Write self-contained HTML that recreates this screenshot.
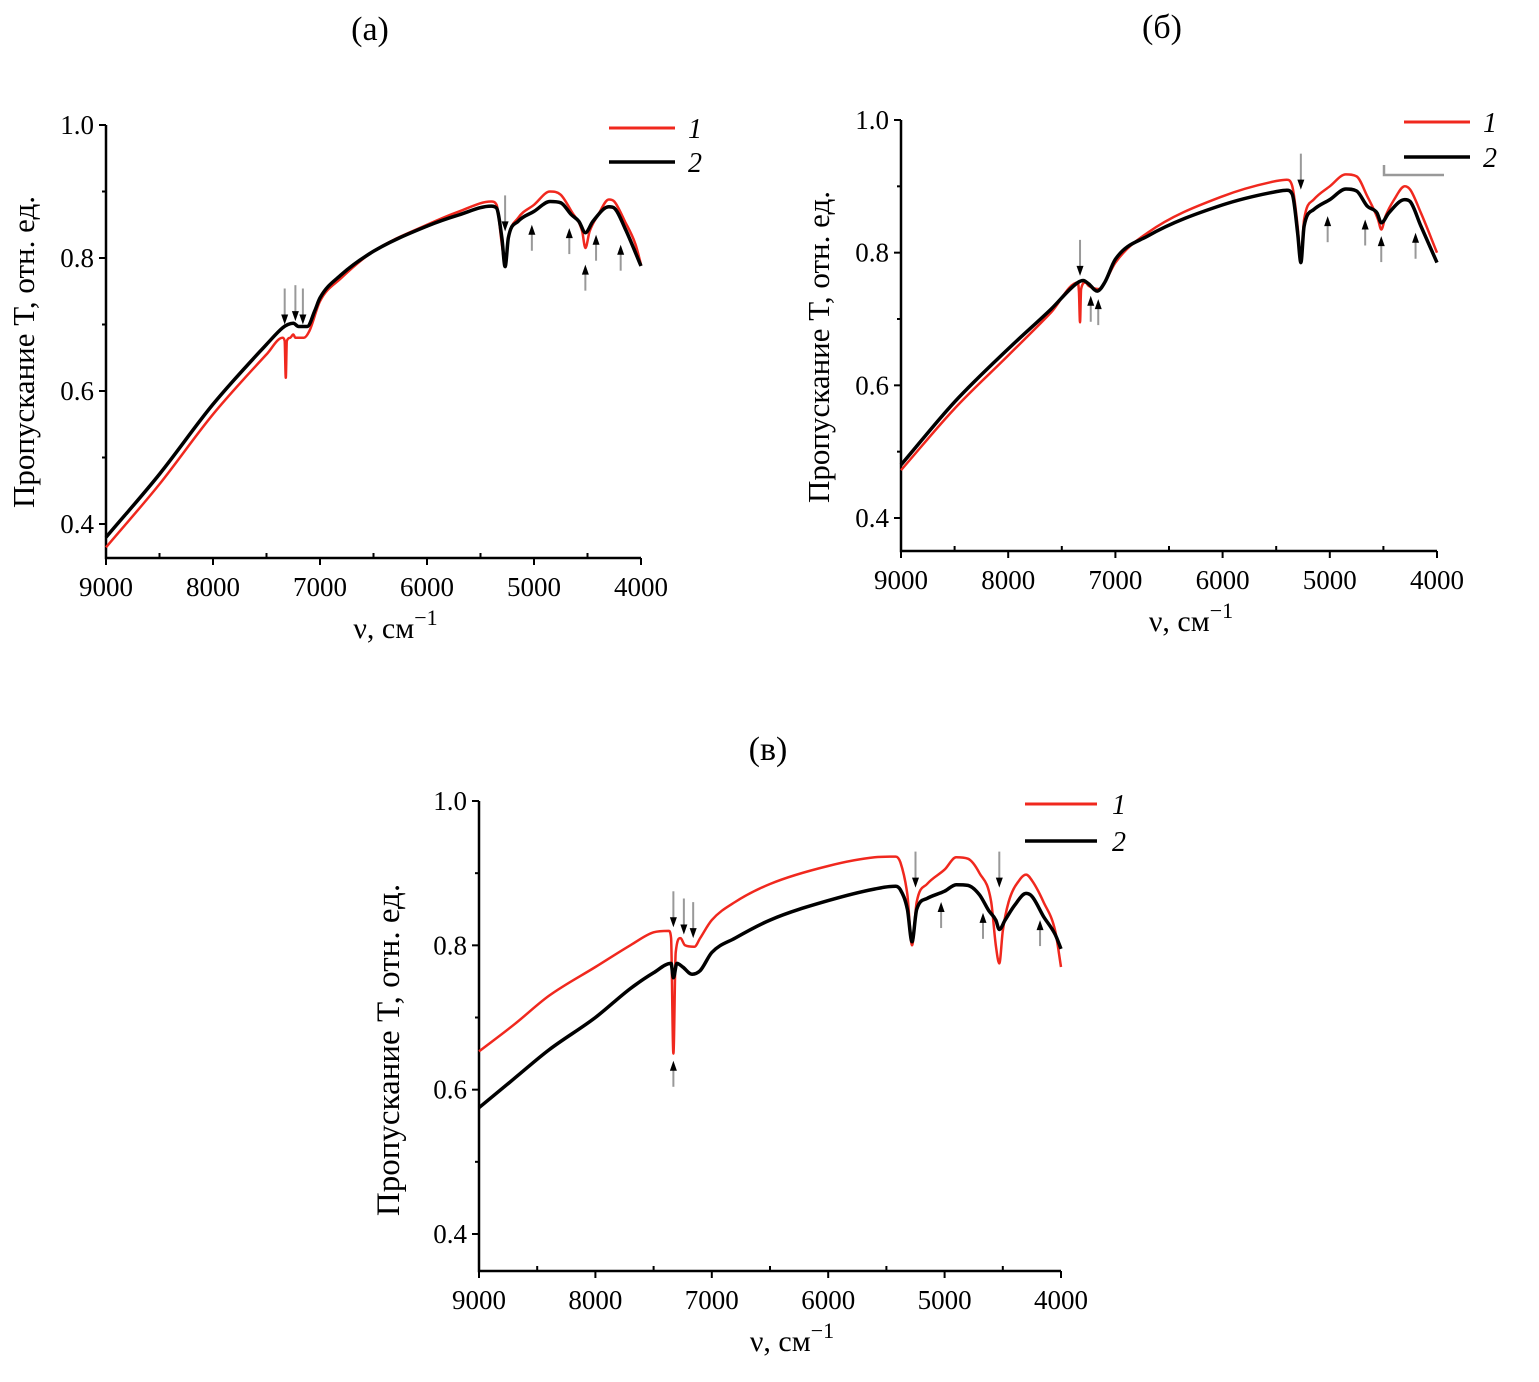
<!DOCTYPE html>
<html><head><meta charset="utf-8">
<style>
body{margin:0;background:#fff;}
svg{display:block;font-family:"Liberation Serif",serif;}
</style></head>
<body>
<svg id="fig" width="1539" height="1382" viewBox="0 0 1539 1382" xmlns="http://www.w3.org/2000/svg">
<text x="370" y="40" font-size="34" text-anchor="middle">(а)</text>
<text x="1162" y="38" font-size="34" text-anchor="middle">(б)</text>
<text x="768" y="760" font-size="34" text-anchor="middle">(в)</text>
</svg>
<script>
const xTicks=[9000,8000,7000,6000,5000,4000];
const yTicks=[0.4,0.6,0.8,1.0];
// Panel a
const aRedX=[9000,8500,8000,7500,7350,7330,7320,7310,7280,7250,7230,7150,7100,7000,6800,6500,6000,5700,5400,5350,5300,5270,5240,5150,5000,4850,4750,4650,4550,4520,4480,4400,4300,4250,4150,4050,4000];
const aRedY=[0.365,0.46,0.565,0.655,0.68,0.675,0.62,0.675,0.68,0.685,0.68,0.68,0.69,0.735,0.77,0.81,0.85,0.87,0.885,0.88,0.82,0.79,0.83,0.86,0.88,0.9,0.895,0.87,0.84,0.815,0.84,0.865,0.888,0.885,0.855,0.82,0.79];
const aBlkX=[9000,8500,8000,7500,7350,7300,7250,7200,7120,7050,7000,6800,6500,6000,5700,5400,5350,5300,5270,5240,5150,5000,4850,4750,4650,4580,4520,4450,4300,4250,4150,4000];
const aBlkY=[0.38,0.475,0.58,0.67,0.695,0.7,0.702,0.697,0.697,0.72,0.74,0.775,0.81,0.848,0.865,0.878,0.875,0.83,0.787,0.83,0.855,0.87,0.885,0.883,0.865,0.855,0.838,0.855,0.877,0.875,0.845,0.788];
const aArrX=[7330,7230,7160,5270,5020,4670,4520,4420,4190];
const aArrY=[0.7,0.705,0.7,0.84,0.85,0.845,0.79,0.835,0.82];
const aArrDir=[-1,-1,-1,-1,1,1,1,1,1];
// Panel b
const bRedX=[9000,8500,8000,7600,7350,7340,7330,7320,7280,7250,7150,7100,7000,6700,6000,5500,5400,5350,5300,5270,5240,5150,5000,4850,4750,4650,4550,4520,4480,4400,4300,4250,4150,4000];
const bRedY=[0.472,0.565,0.645,0.71,0.755,0.74,0.695,0.745,0.755,0.75,0.745,0.755,0.785,0.83,0.885,0.908,0.91,0.9,0.84,0.788,0.85,0.88,0.9,0.918,0.915,0.885,0.85,0.835,0.855,0.88,0.9,0.895,0.86,0.8];
const bBlkX=[9000,8500,8000,7600,7350,7300,7250,7170,7100,7000,6700,6000,5500,5400,5350,5300,5270,5240,5150,5000,4850,4750,4650,4560,4520,4450,4300,4250,4150,4000];
const bBlkY=[0.48,0.575,0.655,0.715,0.755,0.758,0.753,0.742,0.755,0.79,0.825,0.872,0.892,0.894,0.888,0.83,0.785,0.84,0.865,0.88,0.896,0.893,0.87,0.86,0.845,0.86,0.88,0.877,0.84,0.785];
const bArrX=[7330,7230,7160,5270,5020,4670,4520,4200];
const bArrY=[0.765,0.735,0.73,0.895,0.855,0.85,0.825,0.83];
const bArrDir=[-1,1,1,-1,1,1,1,1];
// Panel c
const cRedX=[9000,8700,8400,8000,7700,7500,7370,7350,7330,7310,7270,7230,7150,7100,7000,6800,6500,6000,5600,5420,5380,5320,5280,5240,5150,5000,4900,4800,4700,4600,4560,4530,4500,4450,4350,4300,4250,4150,4050,4000];
const cRedY=[0.653,0.69,0.73,0.77,0.8,0.818,0.82,0.81,0.65,0.79,0.81,0.8,0.798,0.81,0.835,0.86,0.885,0.91,0.922,0.923,0.915,0.87,0.8,0.86,0.885,0.905,0.922,0.92,0.9,0.86,0.8,0.775,0.82,0.86,0.892,0.898,0.89,0.86,0.82,0.77];
const cBlkX=[9000,8700,8400,8000,7700,7500,7350,7330,7300,7250,7170,7100,7000,6800,6500,6000,5600,5420,5380,5320,5280,5240,5150,5000,4900,4800,4700,4620,4560,4530,4480,4400,4300,4250,4150,4050,4000];
const cBlkY=[0.575,0.615,0.655,0.7,0.74,0.762,0.775,0.755,0.775,0.77,0.76,0.765,0.79,0.81,0.835,0.862,0.878,0.882,0.877,0.85,0.805,0.85,0.865,0.875,0.884,0.883,0.87,0.848,0.835,0.822,0.835,0.855,0.872,0.868,0.84,0.815,0.795];
const cArrX=[7330,7240,7160,5250,5030,4670,4530,4180,7330];
const cArrY=[0.825,0.815,0.81,0.88,0.86,0.845,0.88,0.835,0.64];
const cArrDir=[-1,-1,-1,-1,1,1,-1,1,1];

const NS='http://www.w3.org/2000/svg';
const svg=document.getElementById('fig');
function mk(tag,attrs,parent){const e=document.createElementNS(NS,tag);for(const k in attrs)e.setAttribute(k,attrs[k]);(parent||svg).appendChild(e);return e;}

// monotone cubic path through screen points (x increasing)
function monoPath(px,py){
  const n=px.length,d=[],m=new Array(n);
  for(let i=0;i<n-1;i++)d.push((py[i+1]-py[i])/(px[i+1]-px[i]));
  m[0]=d[0];m[n-1]=d[n-2];
  for(let i=1;i<n-1;i++){m[i]=(d[i-1]*d[i]<=0)?0:(d[i-1]+d[i])/2;}
  for(let i=0;i<n-1;i++){
    if(d[i]===0){m[i]=0;m[i+1]=0;continue;}
    const a=m[i]/d[i],b=m[i+1]/d[i],s=a*a+b*b;
    if(s>9){const t=3/Math.sqrt(s);m[i]=t*a*d[i];m[i+1]=t*b*d[i];}
  }
  let s='M'+px[0].toFixed(1)+','+py[0].toFixed(1);
  for(let i=0;i<n-1;i++){
    const h=(px[i+1]-px[i])/3;
    s+=` C${(px[i]+h).toFixed(1)},${(py[i]+m[i]*h).toFixed(1)} ${(px[i+1]-h).toFixed(1)},${(py[i+1]-m[i+1]*h).toFixed(1)} ${px[i+1].toFixed(1)},${py[i+1].toFixed(1)}`;
  }
  return s;
}

function panel(id,P,series,arr,leg){
  const g=mk('g',{});
  
  
  const sx=v=>P.x0+(9000-v)/5000*(P.x1-P.x0);
  const sy=v=>P.y10+(1.0-v)/0.6*(P.y04-P.y10);
  const yb=P.axB;
  const ax=mk('path',{d:`M${P.x0},${sy(1.0)} V${yb} H${P.x1}`,stroke:'#000','stroke-width':2.5,fill:'none'},g);
  
  
  yTicks.forEach(t=>{
    mk('line',{x1:P.x0-7,x2:P.x0,y1:sy(t),y2:sy(t),stroke:'#000','stroke-width':2},g);
    const tx=mk('text',{x:P.x0-12,y:sy(t)+9,'font-size':27,'text-anchor':'end'},g);
    tx.textContent=t.toFixed(1);
    
    
  });
  [0.5,0.7,0.9].forEach(t=>mk('line',{x1:P.x0-4,x2:P.x0,y1:sy(t),y2:sy(t),stroke:'#000','stroke-width':2},g));
  xTicks.forEach(t=>{
    mk('line',{x1:sx(t),x2:sx(t),y1:yb,y2:yb+7,stroke:'#000','stroke-width':2},g);
    const tx=mk('text',{x:sx(t),y:yb+38,'font-size':27,'text-anchor':'middle'},g);
    tx.textContent=t;
    
    
  });
  [8500,7500,6500,5500,4500].forEach(t=>mk('line',{x1:sx(t),x2:sx(t),y1:yb-5,y2:yb,stroke:'#000','stroke-width':2},g));
  const xl=mk('text',{x:(P.x0+P.x1)/2+22,y:yb+80,'font-size':30,'text-anchor':'middle'},g);
  xl.innerHTML='ν, см<tspan dy="-13" font-size="22">−1</tspan>';
  
  
  const yl=mk('text',{x:0,y:0,'font-size':P.yFs,'text-anchor':'middle',transform:`translate(${P.yLx},${P.yLc}) rotate(-90)`},g);
  yl.textContent='Пропускание T, отн. ед.';
  
  
  series.forEach((s,i)=>{
    const p=mk('path',{d:monoPath(s.x.map(sx),s.y.map(sy)),stroke:s.c,'stroke-width':s.w,fill:'none','stroke-linejoin':'round'},g);
    
    
  });
  arr.x.forEach((v,i)=>{
    const X=sx(v),Y=sy(arr.y[i]),dir=arr.d[i];
    const a=mk('g',{},g);
    
    
    if(dir<0){
      mk('line',{x1:X,x2:X,y1:Y-36,y2:Y-8,stroke:'#999','stroke-width':2},a);
      mk('path',{d:`M${X-3.5},${Y-10} L${X+3.5},${Y-10} L${X},${Y} Z`,fill:'#000'},a);
    } else {
      mk('line',{x1:X,x2:X,y1:Y+8,y2:Y+26,stroke:'#999','stroke-width':2},a);
      mk('path',{d:`M${X-3.5},${Y+10} L${X+3.5},${Y+10} L${X},${Y} Z`,fill:'#000'},a);
    }
  });
  [['#f0281e','1',leg.y1],['#000','2',leg.y2]].forEach((L,i)=>{
    const lg=mk('g',{},g);
    
    
    mk('line',{x1:leg.x1,x2:leg.x2,y1:L[2],y2:L[2],stroke:L[0],'stroke-width':i?3.5:3},lg);
    const t=mk('text',{x:leg.tx,y:L[2]+10,'font-size':28,'font-style':'italic'},lg);
    t.textContent=L[1];
  });
  return g;
}
panel('panel-a',{x0:106,x1:641,y10:125,y04:524,axB:558,yLx:34,yLc:352,yFs:31},
  [{x:aRedX,y:aRedY,c:'#f0281e',w:2.5},{x:aBlkX,y:aBlkY,c:'#000',w:3.5}],
  {x:aArrX,y:aArrY,d:aArrDir},{x1:609,x2:675,tx:688,y1:128,y2:162});
panel('panel-b',{x0:901,x1:1437,y10:120,y04:518,axB:551,yLx:829,yLc:347,yFs:31},
  [{x:bRedX,y:bRedY,c:'#f0281e',w:2.5},{x:bBlkX,y:bBlkY,c:'#000',w:3.5}],
  {x:bArrX,y:bArrY,d:bArrDir},{x1:1404,x2:1470,tx:1483,y1:122,y2:157});
mk('path',{d:'M1384,165 V175 H1444',stroke:'#999','stroke-width':2.5,fill:'none'});
panel('panel-c',{x0:479,x1:1061,y10:801,y04:1234,axB:1271,yLx:399,yLc:1050,yFs:33},
  [{x:cRedX,y:cRedY,c:'#f0281e',w:2.5},{x:cBlkX,y:cBlkY,c:'#000',w:3.5}],
  {x:cArrX,y:cArrY,d:cArrDir},{x1:1025,x2:1097,tx:1112,y1:804,y2:841});
</script>
</body></html>
